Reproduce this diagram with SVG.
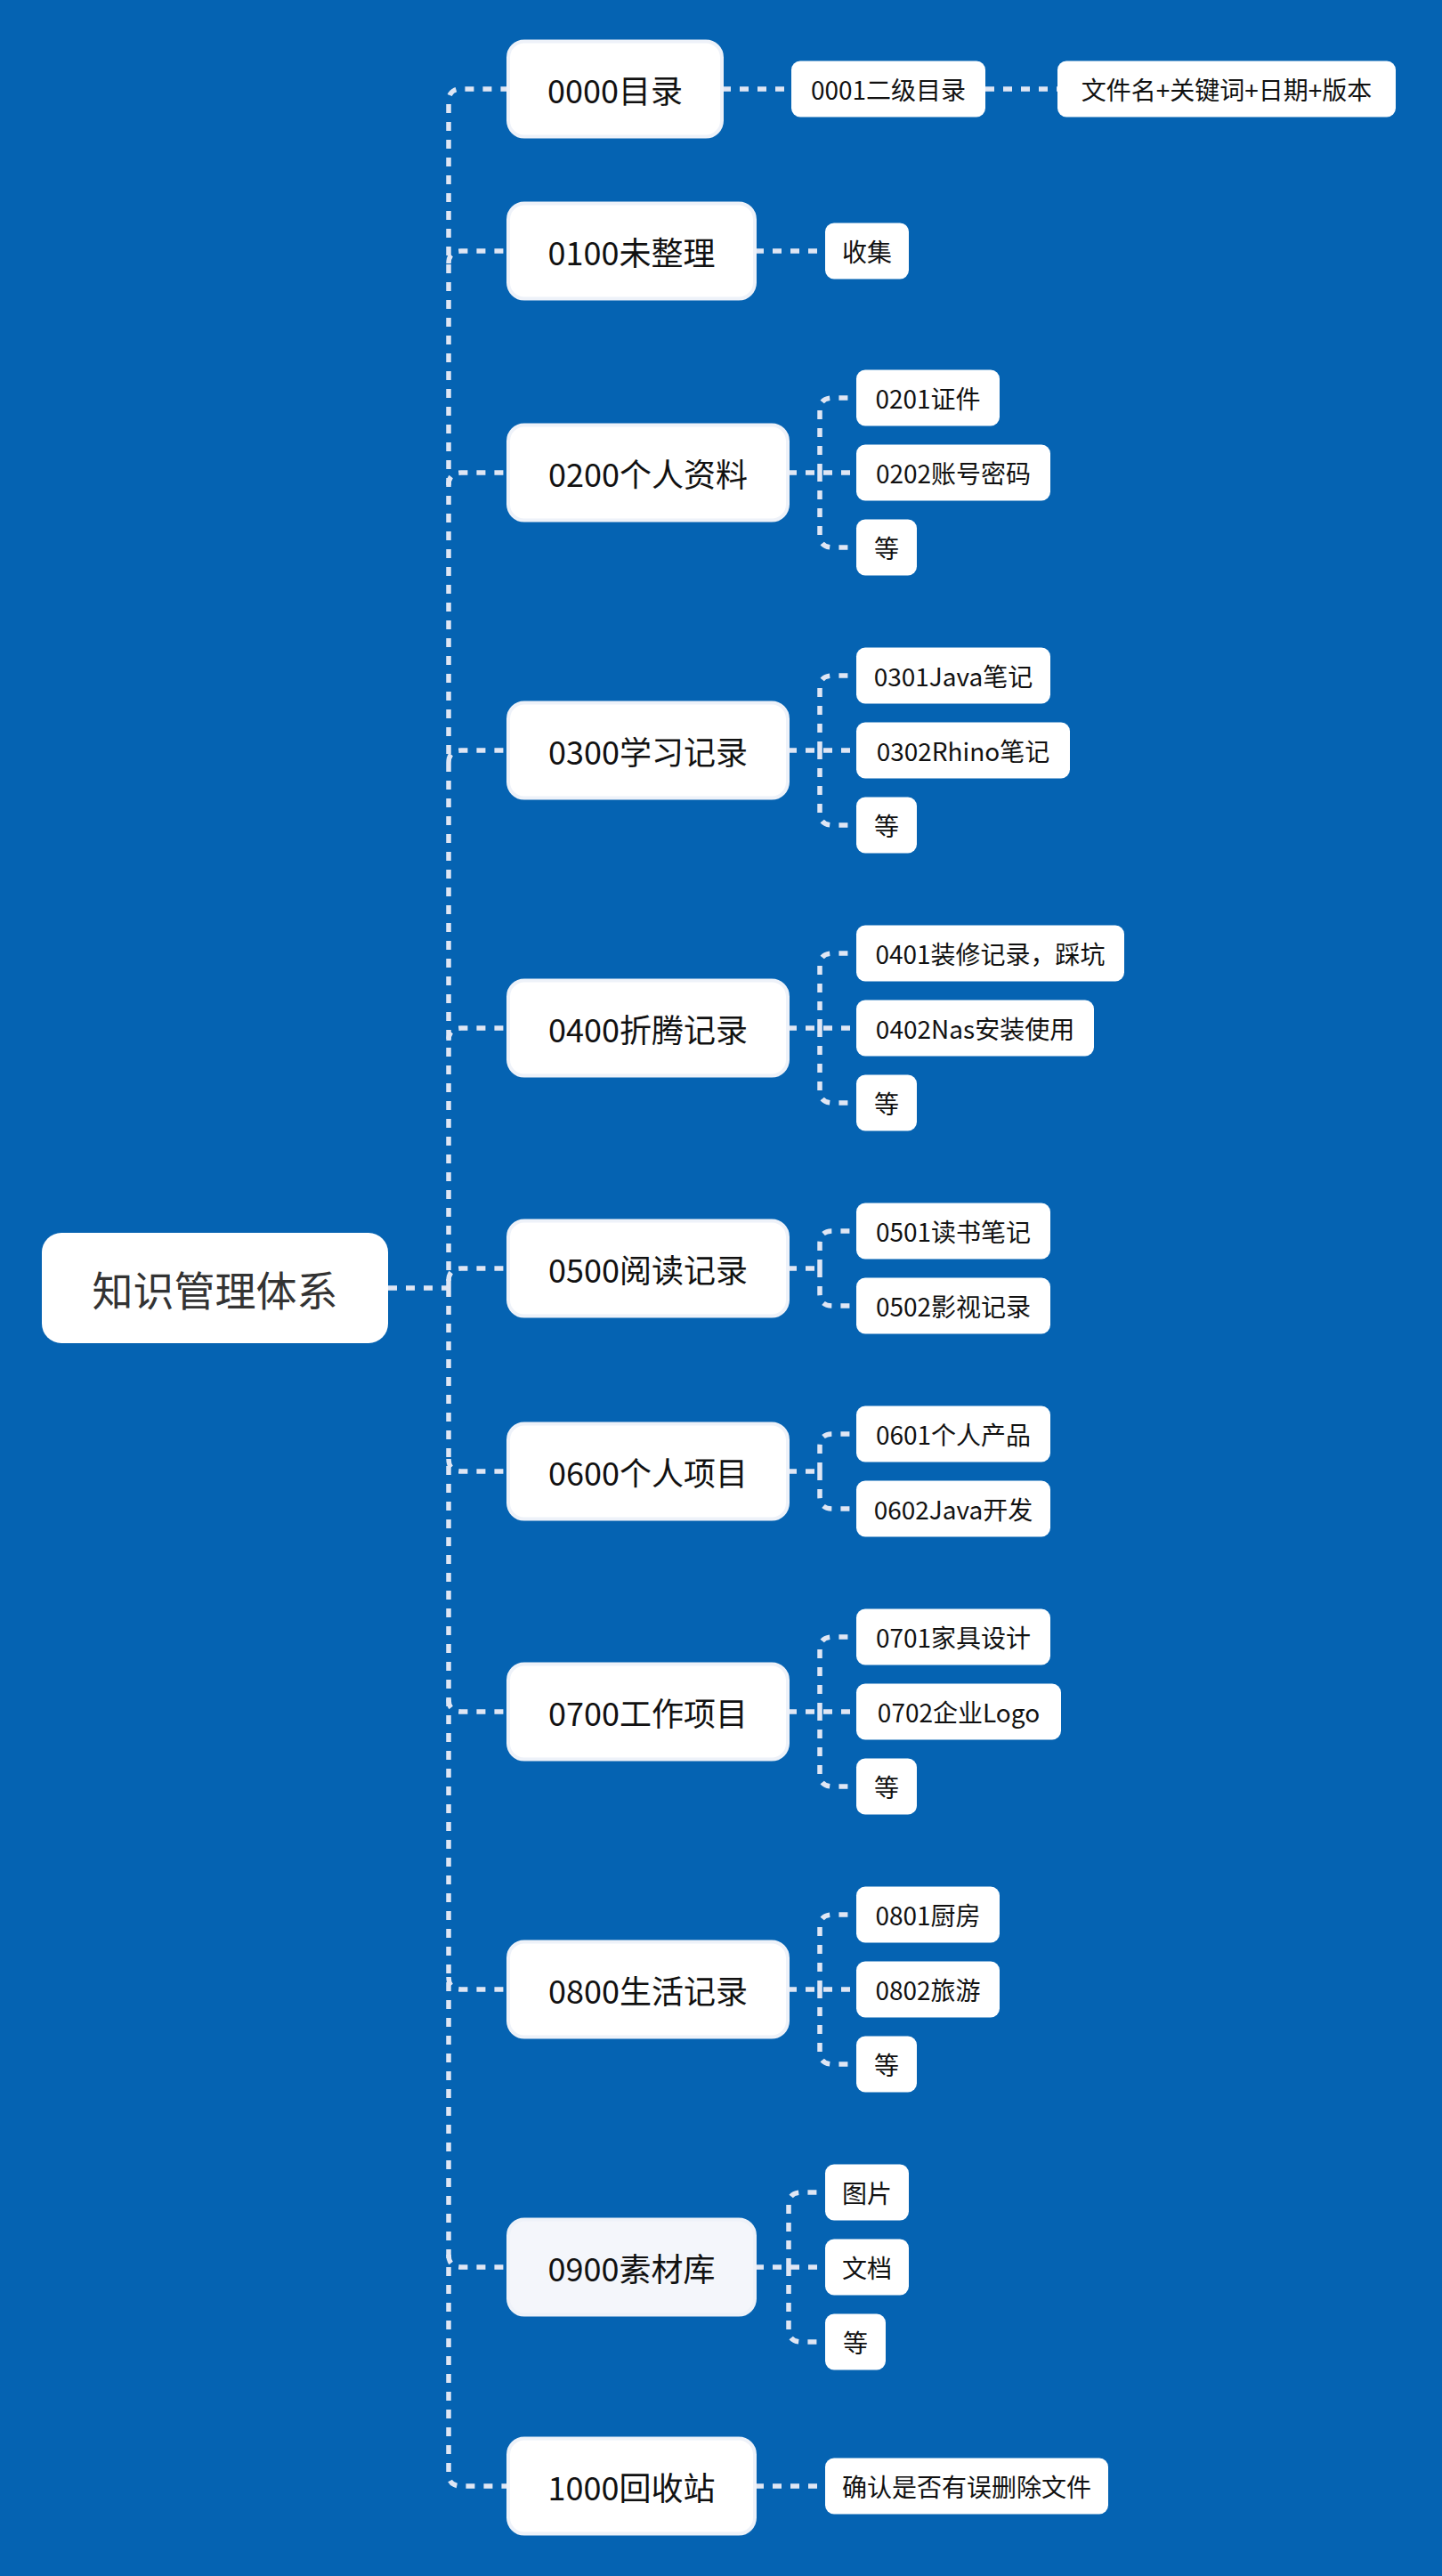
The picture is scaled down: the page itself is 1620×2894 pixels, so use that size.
<svg xmlns="http://www.w3.org/2000/svg" width="1620" height="2894" viewBox="0 0 1620 2894">
<style>
.bg{fill:#0563b2}
.c{fill:none;stroke:#dfe6f4;stroke-width:5.5;stroke-dasharray:10 10}
.root rect{fill:#ffffff}
.root text{fill:#333333;font-size:46px}
.l1 rect{fill:#ffffff;stroke:#eef2f9;stroke-width:4}
.l1.sel rect{fill:#f4f6fb}
.l1 text{fill:#111111;font-size:36px}
.l2 rect{fill:#ffffff}
.l2 text{fill:#111111;font-size:28px}
text{font-family:"Noto Sans CJK SC","Noto Sans",sans-serif;text-anchor:middle;dominant-baseline:central}
</style>
<rect class="bg" x="0" y="0" width="1620" height="2894"/>
<g id="connectors">
<path class="c" d="M436 1447H504"/>
<path class="c" d="M504 1447V114Q504 100 518 100H571"/>
<path class="c" d="M504 1447V2779Q504 2793 518 2793H571"/>
<path class="c" d="M504 296Q504 282 518 282H571"/>
<path class="c" d="M504 545Q504 531 518 531H571"/>
<path class="c" d="M504 857Q504 843 518 843H571"/>
<path class="c" d="M504 1169Q504 1155 518 1155H571"/>
<path class="c" d="M504 1439Q504 1425 518 1425H571"/>
<path class="c" d="M504 1639Q504 1653 518 1653H571"/>
<path class="c" d="M504 1909Q504 1923 518 1923H571"/>
<path class="c" d="M504 2221Q504 2235 518 2235H571"/>
<path class="c" d="M504 2533Q504 2547 518 2547H571"/>
<path class="c" d="M811 100H889"/>
<path class="c" d="M1107 100H1188"/>
<path class="c" d="M848 282H927"/>
<path class="c" d="M885 531H962"/>
<path class="c" d="M921 531V461Q921 447 935 447H962"/>
<path class="c" d="M921 531V601Q921 615 935 615H962"/>
<path class="c" d="M885 843H962"/>
<path class="c" d="M921 843V773Q921 759 935 759H962"/>
<path class="c" d="M921 843V913Q921 927 935 927H962"/>
<path class="c" d="M885 1155H962"/>
<path class="c" d="M921 1155V1085Q921 1071 935 1071H962"/>
<path class="c" d="M921 1155V1225Q921 1239 935 1239H962"/>
<path class="c" d="M885 1425H921"/>
<path class="c" d="M921 1425V1397Q921 1383 935 1383H962"/>
<path class="c" d="M921 1425V1453Q921 1467 935 1467H962"/>
<path class="c" d="M885 1653H921"/>
<path class="c" d="M921 1653V1625Q921 1611 935 1611H962"/>
<path class="c" d="M921 1653V1681Q921 1695 935 1695H962"/>
<path class="c" d="M885 1923H962"/>
<path class="c" d="M921 1923V1853Q921 1839 935 1839H962"/>
<path class="c" d="M921 1923V1993Q921 2007 935 2007H962"/>
<path class="c" d="M885 2235H962"/>
<path class="c" d="M921 2235V2165Q921 2151 935 2151H962"/>
<path class="c" d="M921 2235V2305Q921 2319 935 2319H962"/>
<path class="c" d="M848 2547H927"/>
<path class="c" d="M886 2547V2477Q886 2463 900 2463H927"/>
<path class="c" d="M886 2547V2617Q886 2631 900 2631H927"/>
<path class="c" d="M848 2793H927"/>
</g>
<g id="root" class="root"><rect x="47" y="1385" width="389" height="124" rx="22"/><text x="241.5" y="1447">知识管理体系</text></g>
<g id="n0000" class="l1"><rect x="571" y="46.5" width="240" height="107" rx="18"/><text x="691" y="100">0000目录</text></g>
<g id="n0100" class="l1"><rect x="571" y="228.5" width="277" height="107" rx="18"/><text x="709.5" y="282">0100未整理</text></g>
<g id="n0200" class="l1"><rect x="571" y="477.5" width="314" height="107" rx="18"/><text x="728" y="531">0200个人资料</text></g>
<g id="n0300" class="l1"><rect x="571" y="789.5" width="314" height="107" rx="18"/><text x="728" y="843">0300学习记录</text></g>
<g id="n0400" class="l1"><rect x="571" y="1101.5" width="314" height="107" rx="18"/><text x="728" y="1155">0400折腾记录</text></g>
<g id="n0500" class="l1"><rect x="571" y="1371.5" width="314" height="107" rx="18"/><text x="728" y="1425">0500阅读记录</text></g>
<g id="n0600" class="l1"><rect x="571" y="1599.5" width="314" height="107" rx="18"/><text x="728" y="1653">0600个人项目</text></g>
<g id="n0700" class="l1"><rect x="571" y="1869.5" width="314" height="107" rx="18"/><text x="728" y="1923">0700工作项目</text></g>
<g id="n0800" class="l1"><rect x="571" y="2181.5" width="314" height="107" rx="18"/><text x="728" y="2235">0800生活记录</text></g>
<g id="n0900" class="l1 sel"><rect x="571" y="2493.5" width="277" height="107" rx="18"/><text x="709.5" y="2547">0900素材库</text></g>
<g id="n1000" class="l1"><rect x="571" y="2739.5" width="277" height="107" rx="18"/><text x="709.5" y="2793">1000回收站</text></g>
<g id="n0001" class="l2"><rect x="889" y="68.5" width="218" height="63" rx="10"/><text x="998" y="100">0001二级目录</text></g>
<g id="n0001a" class="l2"><rect x="1188" y="68.5" width="380" height="63" rx="10"/><text x="1378" y="100">文件名+关键词+日期+版本</text></g>
<g id="n0101" class="l2"><rect x="927" y="250.5" width="94" height="63" rx="10"/><text x="974" y="282">收集</text></g>
<g id="n0201" class="l2"><rect x="962" y="415.5" width="161" height="63" rx="10"/><text x="1042.5" y="447">0201证件</text></g>
<g id="n0202" class="l2"><rect x="962" y="499.5" width="218" height="63" rx="10"/><text x="1071" y="531">0202账号密码</text></g>
<g id="n0203" class="l2"><rect x="962" y="583.5" width="68" height="63" rx="10"/><text x="996" y="615">等</text></g>
<g id="n0301" class="l2"><rect x="962" y="727.5" width="218" height="63" rx="10"/><text x="1071" y="759">0301Java笔记</text></g>
<g id="n0302" class="l2"><rect x="962" y="811.5" width="240" height="63" rx="10"/><text x="1082" y="843">0302Rhino笔记</text></g>
<g id="n0303" class="l2"><rect x="962" y="895.5" width="68" height="63" rx="10"/><text x="996" y="927">等</text></g>
<g id="n0401" class="l2"><rect x="962" y="1039.5" width="301" height="63" rx="10"/><text x="1112.5" y="1071">0401装修记录，踩坑</text></g>
<g id="n0402" class="l2"><rect x="962" y="1123.5" width="267" height="63" rx="10"/><text x="1095.5" y="1155">0402Nas安装使用</text></g>
<g id="n0403" class="l2"><rect x="962" y="1207.5" width="68" height="63" rx="10"/><text x="996" y="1239">等</text></g>
<g id="n0501" class="l2"><rect x="962" y="1351.5" width="218" height="63" rx="10"/><text x="1071" y="1383">0501读书笔记</text></g>
<g id="n0502" class="l2"><rect x="962" y="1435.5" width="218" height="63" rx="10"/><text x="1071" y="1467">0502影视记录</text></g>
<g id="n0601" class="l2"><rect x="962" y="1579.5" width="218" height="63" rx="10"/><text x="1071" y="1611">0601个人产品</text></g>
<g id="n0602" class="l2"><rect x="962" y="1663.5" width="218" height="63" rx="10"/><text x="1071" y="1695">0602Java开发</text></g>
<g id="n0701" class="l2"><rect x="962" y="1807.5" width="218" height="63" rx="10"/><text x="1071" y="1839">0701家具设计</text></g>
<g id="n0702" class="l2"><rect x="962" y="1891.5" width="230" height="63" rx="10"/><text x="1077" y="1923">0702企业Logo</text></g>
<g id="n0703" class="l2"><rect x="962" y="1975.5" width="68" height="63" rx="10"/><text x="996" y="2007">等</text></g>
<g id="n0801" class="l2"><rect x="962" y="2119.5" width="161" height="63" rx="10"/><text x="1042.5" y="2151">0801厨房</text></g>
<g id="n0802" class="l2"><rect x="962" y="2203.5" width="161" height="63" rx="10"/><text x="1042.5" y="2235">0802旅游</text></g>
<g id="n0803" class="l2"><rect x="962" y="2287.5" width="68" height="63" rx="10"/><text x="996" y="2319">等</text></g>
<g id="n0901" class="l2"><rect x="927" y="2431.5" width="94" height="63" rx="10"/><text x="974" y="2463">图片</text></g>
<g id="n0902" class="l2"><rect x="927" y="2515.5" width="94" height="63" rx="10"/><text x="974" y="2547">文档</text></g>
<g id="n0903" class="l2"><rect x="927" y="2599.5" width="68" height="63" rx="10"/><text x="961" y="2631">等</text></g>
<g id="n1001" class="l2"><rect x="927" y="2761.5" width="318" height="63" rx="10"/><text x="1086" y="2793">确认是否有误删除文件</text></g>
</svg>
